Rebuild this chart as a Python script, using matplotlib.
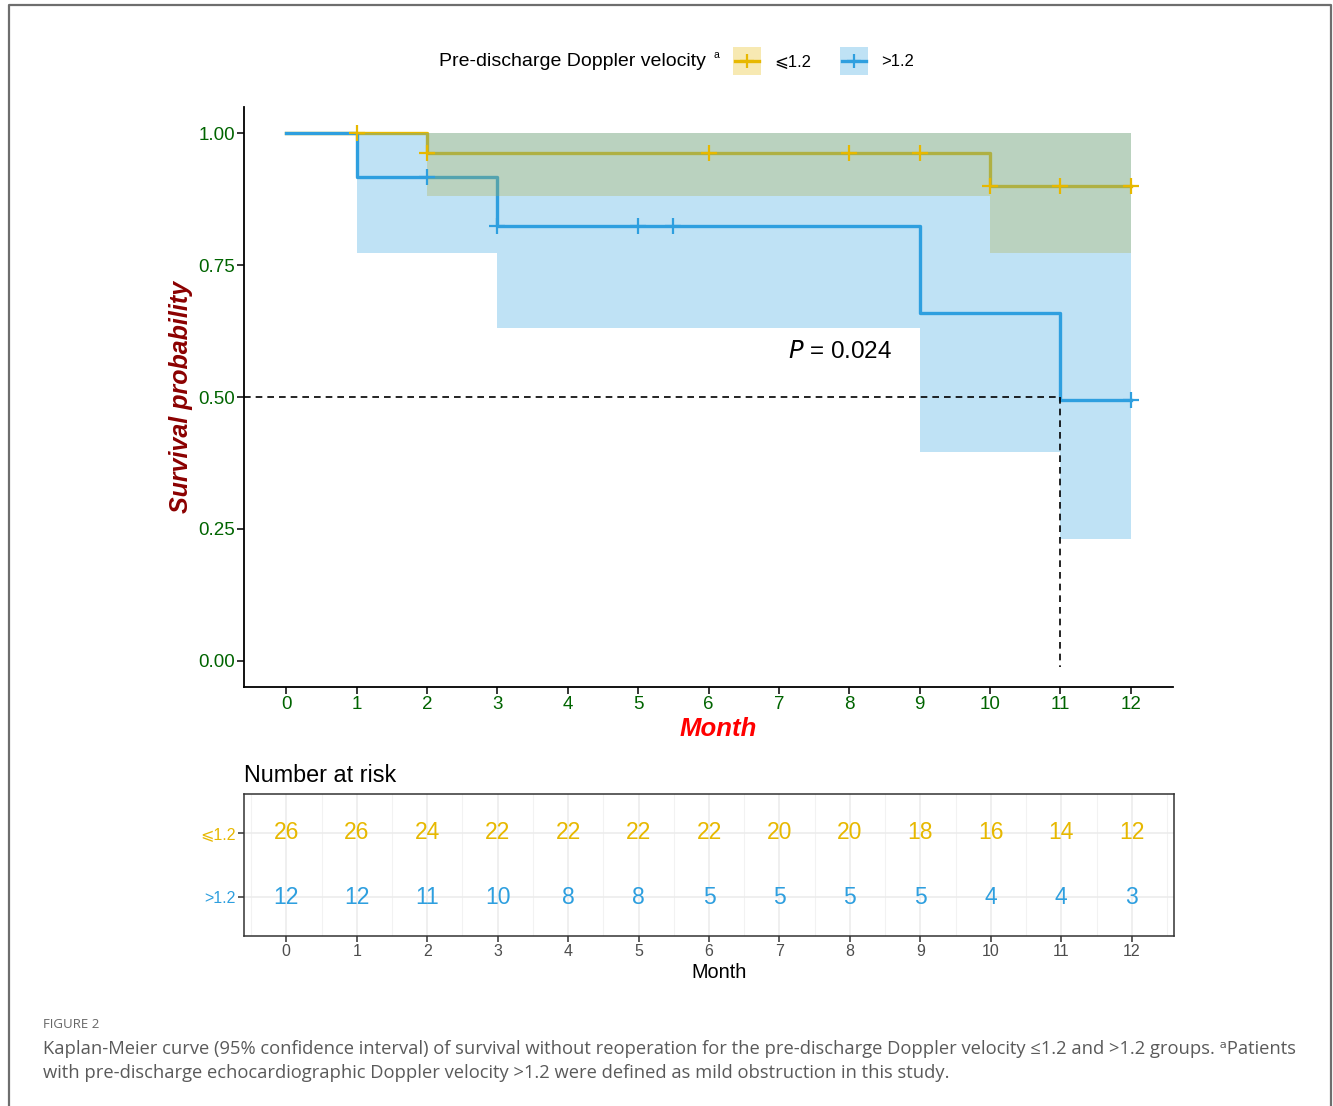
import matplotlib
matplotlib.use("Agg")
import matplotlib.pyplot as plt
from matplotlib.patches import Rectangle

plt.rcParams["font.family"] = ["Liberation Sans", "DejaVu Sans"]

# --- data ---
months = list(range(0, 13))
groups = ["⩽1.2", ">1.2"]
colors = ["#E7B800", "#2E9FDF"]

# step curves (time of change, survival after change)
low_t = [0, 2, 10, 12]
low_s = [1.0, 0.962, 0.901, 0.901]
low_lo = [1.0, 0.881, 0.773, 0.773]
low_hi = [1.0, 1.0, 1.0, 1.0]
low_cens_t = [1, 2, 6, 8, 9, 10, 11, 12]
low_cens_s = [1.0, 0.962, 0.962, 0.962, 0.962, 0.901, 0.901, 0.901]

high_t = [0, 1, 3, 9, 11, 12]
high_s = [1.0, 0.917, 0.825, 0.660, 0.495, 0.495]
high_lo = [1.0, 0.773, 0.631, 0.396, 0.231, 0.231]
high_hi = [1.0, 1.0, 1.0, 1.0, 1.0, 1.0]
high_cens_t = [2, 3, 5, 5.5, 12]
high_cens_s = [0.917, 0.825, 0.825, 0.825, 0.495]

risk_low = [26, 26, 24, 22, 22, 22, 22, 20, 20, 18, 16, 14, 12]
risk_high = [12, 12, 11, 10, 8, 8, 5, 5, 5, 5, 4, 4, 3]

median_time = 11
p_text = "0.024"

W, H = 1333, 1106
fig = plt.figure(figsize=(W / 100, H / 100), dpi=100)


def px_axes(x0, y0, x1, y1):
    return fig.add_axes([x0 / W, 1 - y1 / H, (x1 - x0) / W, (y1 - y0) / H])


# --- main survival plot ---
ax = px_axes(244, 107, 1173, 687)
curves = [
    (low_t, low_s, low_lo, low_hi, low_cens_t, low_cens_s),
    (high_t, high_s, high_lo, high_hi, high_cens_t, high_cens_s),
]
for (t, s, lo, hi, ct, cs), col in zip(curves, colors):
    ax.step(t, s, where="post", color=col, lw=2.4, zorder=2)
for (t, s, lo, hi, ct, cs), col in zip(curves, colors):
    ax.fill_between(t, lo, hi, step="post", color=col, alpha=0.3, lw=0, zorder=3)
for (t, s, lo, hi, ct, cs), col in zip(curves, colors):
    ax.plot(ct, cs, ls="none", marker="+", ms=11, mew=1.6, color=col, zorder=4)

ax.plot([-0.6, median_time], [0.5, 0.5], ls=(0, (4, 3)), color="black", lw=1.2, zorder=5)
ax.plot([median_time, median_time], [0.5, -0.013], ls=(0, (4, 3)), color="black", lw=1.2, zorder=5)

ax.text(7.87, 0.585, "$\\it{P}$ = " + p_text, fontsize=17.5, ha="center", va="center")

ax.set_xlim(-0.6, 12.6)
ax.set_ylim(-0.05, 1.05)
ax.set_xticks(months)
ax.set_yticks([0, 0.25, 0.5, 0.75, 1.0])
ax.set_yticklabels(["0.00", "0.25", "0.50", "0.75", "1.00"])
ax.tick_params(colors="black", labelcolor="darkgreen", labelsize=13.5, length=5, width=1.1, pad=1.5)
for side in ["top", "right"]:
    ax.spines[side].set_visible(False)
for side in ["left", "bottom"]:
    ax.spines[side].set_linewidth(1.3)
ax.set_xlabel("Month", fontsize=18.5, fontweight="bold", style="italic", color="#FF0000", labelpad=2)
ax.xaxis.set_label_coords(0.51, -0.052)
ax.set_ylabel("Survival probability", fontsize=18, fontweight="bold", style="italic", color="darkred", labelpad=4)

# --- number at risk table ---
rt = px_axes(244, 794, 1174, 936)
for y, vals, col in [(2, risk_low, colors[0]), (1, risk_high, colors[1])]:
    for m, v in zip(months, vals):
        rt.text(m, y, str(v), color=col, fontsize=16.5, ha="center", va="center")
rt.set_xlim(-0.6, 12.6)
rt.set_ylim(0.4, 2.6)
rt.set_xticks(months)
rt.set_xticks([m + 0.5 for m in range(-1, 13)], minor=True)
rt.set_yticks([2, 1])
rt.set_yticklabels(groups)
rt.grid(True, which="major", color="#EBEBEB", lw=1.1)
rt.grid(True, which="minor", axis="x", color="#F2F2F2", lw=0.8)
rt.set_axisbelow(True)
rt.tick_params(which="major", colors="#333333", labelsize=11.5, length=4, width=1.1, pad=2)
rt.tick_params(which="minor", length=0)
for lab in rt.get_xticklabels():
    lab.set_color("#4D4D4D")
for lab, col in zip(rt.get_yticklabels(), colors):
    lab.set_color(col)
for sp in rt.spines.values():
    sp.set_color("#333333")
    sp.set_linewidth(1.1)
rt.set_xlabel("Month", fontsize=14.3, labelpad=0)
rt.xaxis.set_label_coords(0.511, -0.19)
rt.set_title("Number at risk", loc="left", fontsize=16.8, pad=9)

# --- overlay: frame, legend, caption ---
ov = fig.add_axes([0, 0, 1, 1], zorder=-1)
ov.set_xlim(0, W)
ov.set_ylim(H, 0)
ov.axis("off")
ov.plot([9, 9, 1331, 1331], [H, 5, 5, H], color="#6E6E6E", lw=1.6)

ov.text(439, 61, "Pre-discharge Doppler velocity", fontsize=14, va="center", ha="left")
ov.text(713, 55, "a", fontsize=7.5, va="center", ha="left")
for x0, col, lab in [(733, colors[0], groups[0]), (840, colors[1], groups[1])]:
    ov.add_patch(Rectangle((x0, 47), 28, 28, color=col, alpha=0.3, lw=0))
    ov.plot([x0 + 2, x0 + 26], [61, 61], color=col, lw=2.4)
    ov.plot([x0 + 14], [61], marker="+", ms=10, mew=1.6, color=col)
    ov.text(x0 + 41, 62, lab, fontsize=12, va="center", ha="left")

cap_font = ["Open Sans", "DejaVu Sans"]
ov.text(43, 1025, "FIGURE 2", fontsize=9.5, color="#666666", family=cap_font, va="center")
ov.text(43, 1049,
        "Kaplan-Meier curve (95% confidence interval) of survival without reoperation for the pre-discharge "
        "Doppler velocity ≤1.2 and >1.2 groups. ᵃPatients",
        fontsize=13.2, color="#5A5A5A", family=cap_font, va="center")
ov.text(43, 1073,
        "with pre-discharge echocardiographic Doppler velocity >1.2 were defined as mild obstruction in this study.",
        fontsize=13.2, color="#5A5A5A", family=cap_font, va="center")

fig.savefig("out.png", dpi=100)
